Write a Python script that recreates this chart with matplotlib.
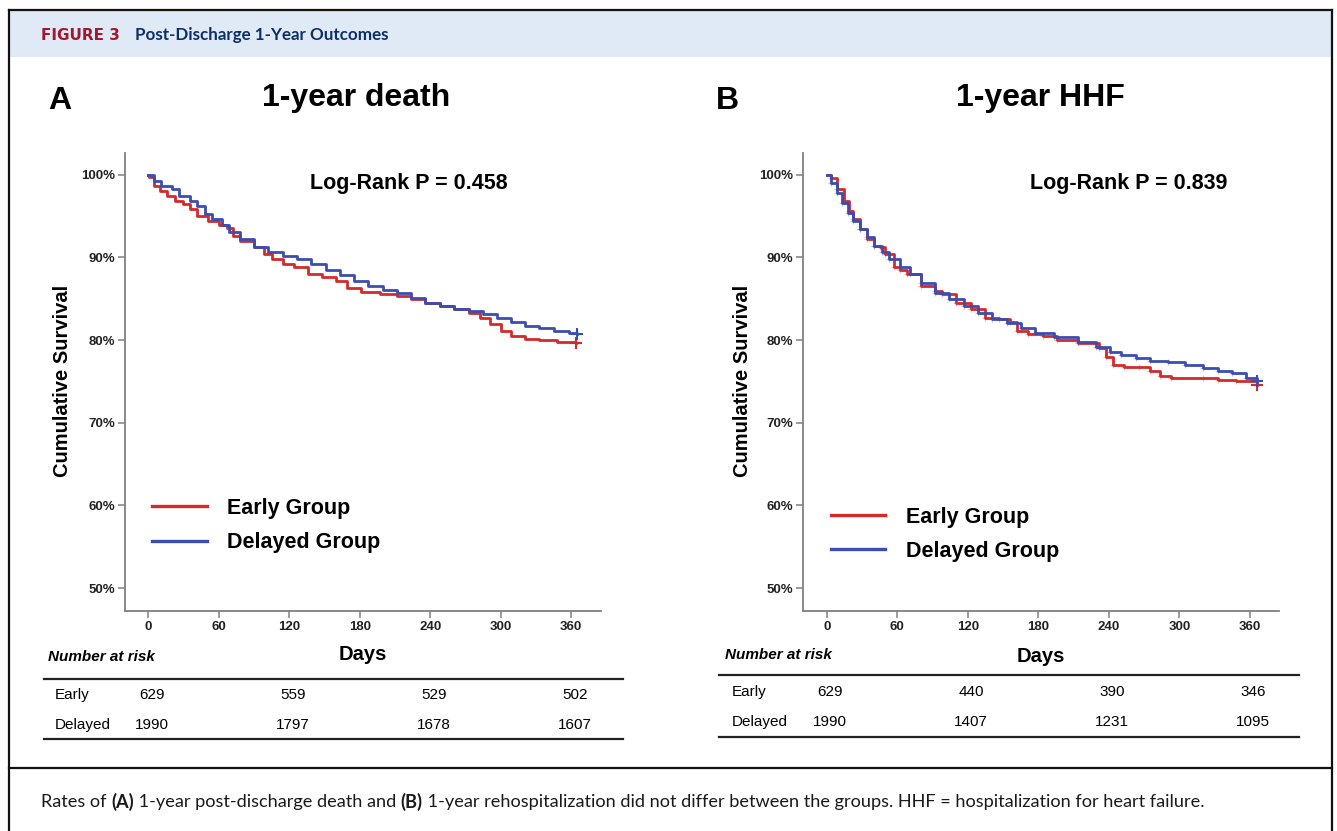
"""Figure 3: post-discharge 1-year Kaplan-Meier curves (death and HHF)."""
import matplotlib
matplotlib.use("Agg")  # noqa: E402
import matplotlib.pyplot as plt
from matplotlib.lines import Line2D
from matplotlib.patches import Rectangle
from matplotlib.transforms import blended_transform_factory

plt.rcParams["font.family"] = ["Liberation Sans", "DejaVu Sans"]

W, H = 1337, 831
RED = "#d42a2c"
BLUE = "#3b4db0"
SPINE = "#808080"

DAY_TICKS = [0, 60, 120, 180, 240, 300, 360]
PCT_TICKS = [50, 60, 70, 80, 90, 100]

# panel A - 1-year death
death_early_days = [0, 0.6, 5, 10, 16, 23, 30, 36, 42, 51, 60, 67, 72, 78, 90, 99, 105,
                    115, 124, 136, 148, 160, 169, 181, 197, 212, 224, 236, 248, 260,
                    273, 282, 291, 300, 309, 321, 333, 348, 364]
death_early_surv = [100, 99.7, 98.6, 98.0, 97.4, 96.8, 96.4, 95.8, 95.0, 94.4, 93.9, 93.5,
                    92.6, 92.0, 91.2, 90.4, 89.8, 89.2, 88.8, 88.0, 87.6, 87.1, 86.3,
                    85.8, 85.5, 85.3, 84.9, 84.5, 84.1, 83.7, 83.3, 82.7, 81.9, 81.1,
                    80.5, 80.1, 80.0, 79.8, 79.6]
death_delayed_days = [0, 5, 11, 20, 26, 36, 42, 48, 54, 63, 69, 78, 90, 102, 115, 127,
                      139, 151, 163, 175, 187, 200, 212, 224, 236, 248, 260, 273, 285,
                      297, 309, 321, 333, 345, 358, 365]
death_delayed_surv = [100, 99.2, 98.6, 98.2, 97.4, 96.8, 96.2, 95.2, 94.6, 93.9, 93.0,
                      92.2, 91.2, 90.6, 90.2, 89.8, 89.2, 88.4, 87.8, 87.1, 86.5, 86.1,
                      85.7, 85.1, 84.5, 84.1, 83.7, 83.5, 83.1, 82.7, 82.2, 81.7, 81.4,
                      81.1, 80.8, 80.7]

# panel B - 1-year HHF
hhf_early_days = [0, 4, 8.5, 15, 19, 22, 28, 34, 40, 45, 50, 57, 62, 68, 80, 92, 98,
                  110, 123, 135, 147, 156, 162, 171, 184, 196, 214, 232, 238, 244, 253,
                  266, 275, 284, 293, 320, 333, 348, 366]
hhf_early_surv = [100, 99.6, 98.2, 96.8, 95.6, 94.6, 93.4, 92.2, 91.4, 91.3, 90.4, 88.8,
                  88.4, 88.0, 86.5, 85.9, 85.5, 84.5, 83.7, 82.7, 82.5, 82.2, 81.1, 80.7,
                  80.5, 80.0, 79.6, 79.0, 78.0, 77.0, 76.7, 76.7, 76.2, 75.6, 75.4, 75.4,
                  75.2, 75.0, 74.6]
hhf_delayed_days = [0, 4, 8.5, 13, 18, 22, 28, 34, 40, 47, 53, 62, 71, 80, 92, 104, 117,
                    129, 141, 153, 165, 177, 193, 214, 229, 241, 250, 263, 275, 290, 305,
                    320, 333, 345, 357, 366]
hhf_delayed_surv = [100, 99.0, 97.8, 96.6, 95.4, 94.4, 93.4, 92.4, 91.4, 90.6, 89.8, 88.8,
                    88.0, 86.9, 85.7, 84.9, 84.1, 83.3, 82.5, 82.1, 81.5, 80.9, 80.4, 79.8,
                    79.2, 78.6, 78.2, 77.8, 77.5, 77.3, 77.0, 76.6, 76.3, 76.0, 75.4, 75.1]

RISK_DAYS = [0, 120, 240, 360]
death_risk_early = [629, 559, 529, 502]
death_risk_delayed = [1990, 1797, 1678, 1607]
hhf_risk_early = [629, 440, 390, 346]
hhf_risk_delayed = [1990, 1407, 1231, 1095]

CAPTION = [("Rates of ", "normal"), ("(A)", "bold"),
           (" 1-year post-discharge death and ", "normal"), ("(B)", "bold"),
           (" 1-year rehospitalization did not differ between the groups. HHF = "
            "hospitalization for heart failure.", "normal")]


def fx(x):
    return x / W


def fy(y):
    return 1 - y / H


def km_panel(fig, left_px, curves, censor_dense):
    ax = fig.add_axes([fx(left_px), fy(611), 476 / W, (611 - 153) / H])
    for days, surv, color in curves:
        ax.step(days, surv, where="post", color=color, lw=2.0)
        if censor_dense:
            ax.plot(days[1:], surv[1:], ls="none", marker="+", ms=5, mew=0.8,
                    color=color, alpha=0.35)
        ax.plot(days[-1], surv[-1], ls="none", marker="+", ms=8, mew=1.5, color=color)
    ax.set_xlim(-20, 385)
    ax.set_ylim(47.25, 102.6)
    ax.set_xticks(DAY_TICKS)
    ax.set_yticks(PCT_TICKS)
    ax.set_yticklabels([f"{p}%" for p in PCT_TICKS])
    for s in ("top", "right"):
        ax.spines[s].set_visible(False)
    for s in ("left", "bottom"):
        ax.spines[s].set_color(SPINE)
        ax.spines[s].set_linewidth(1.3)
    ax.tick_params(direction="out", length=5, width=1.1, color=SPINE, labelsize=9.5, pad=2)
    for lab in ax.get_xticklabels() + ax.get_yticklabels():
        lab.set_fontweight("bold")
        lab.set_color("#222222")
    return ax


def risk_table(fig, ax, x0, x1, y_top, y_e, y_d, y_bot, lab_x, early, delayed):
    tr = blended_transform_factory(ax.transData, fig.transFigure)
    for y in (y_top, y_bot):
        fig.add_artist(Line2D([fx(x0), fx(x1)], [fy(y), fy(y)], color="#222222", lw=1.6))
    fig.text(fx(lab_x), fy(y_e), "Early", fontsize=11, va="center")
    fig.text(fx(lab_x), fy(y_d), "Delayed", fontsize=11, va="center")
    for d, e, dl in zip(RISK_DAYS, early, delayed):
        ax.text(d + 3, fy(y_e), str(e), transform=tr, fontsize=11, ha="center", va="center")
        ax.text(d + 3, fy(y_d), str(dl), transform=tr, fontsize=11, ha="center", va="center")


def run_text(fig, renderer, x_px, y_px, pieces, family, target_w, color):
    """Inline text runs with mixed weight, sized so the whole line spans target_w px."""
    def draw(size):
        arts, x = [], fx(x_px)
        for txt, wt in pieces:
            t = fig.text(x, fy(y_px), txt, family=family, fontsize=size, fontweight=wt,
                         va="center", color=color)
            x += t.get_window_extent(renderer=renderer).width / W
            arts.append(t)
        return arts, (x - fx(x_px)) * W
    arts, width = draw(10)
    for a in arts:
        a.remove()
    draw(10 * target_w / width)


fig = plt.figure(figsize=(W / 100, H / 100), dpi=100)
renderer = fig.canvas.get_renderer()

# frame, header band, caption divider
fig.add_artist(Rectangle((fx(9), fy(57)), fx(1332 - 9), (57 - 10) / H,
                         facecolor="#dfeaf6", edgecolor="none"))
for xs, ys in [([9, 1332], [10, 10]), ([9, 9], [10, 831]), ([1332, 1332], [10, 831]),
               ([9, 1332], [768, 768])]:
    fig.add_artist(Line2D([fx(v) for v in xs], [fy(v) for v in ys], color="#111111", lw=1.6))
fig.text(fx(41), fy(35), "FIGURE 3", family="DejaVu Sans", fontweight="bold",
         fontsize=11, color="#a0192e", va="center")
run_text(fig, renderer, 135, 35, [("Post-Discharge 1-Year Outcomes", "bold")], "Lato",
         255, "#0e2f66")

panels = [
    dict(left=124.6, tag="A", tag_x=48, title="1-year death", title_x=356, p="0.458", p_x=310,
         curves=[(death_early_days, death_early_surv, RED),
                 (death_delayed_days, death_delayed_surv, BLUE)],
         dense=False, leg_y=0.247, ylab_x=63,
         table=(44, 623, 679, 695, 725, 739, 54.5), nar=(48, 657), days_xy=(363, 655),
         risk=(death_risk_early, death_risk_delayed)),
    dict(left=803.2, tag="B", tag_x=716, title="1-year HHF", title_x=1040, p="0.839", p_x=1030,
         curves=[(hhf_early_days, hhf_early_surv, RED),
                 (hhf_delayed_days, hhf_delayed_surv, BLUE)],
         dense=True, leg_y=0.228, ylab_x=742,
         table=(719, 1299, 675, 692, 722, 737, 731.6), nar=(724.5, 655), days_xy=(1041, 656),
         risk=(hhf_risk_early, hhf_risk_delayed)),
]

for p in panels:
    ax = km_panel(fig, p["left"], p["curves"], p["dense"])
    fig.text(fx(p["tag_x"]), fy(101), p["tag"], fontsize=23, fontweight="bold", va="center")
    fig.text(fx(p["title_x"]), fy(98), p["title"], fontsize=23, fontweight="bold",
             ha="center", va="center")
    fig.text(fx(p["p_x"]), fy(184), f"Log-Rank P = {p['p']}", fontsize=15.5,
             fontweight="bold", va="center")
    fig.text(fx(p["ylab_x"]), fy(381), "Cumulative Survival", fontsize=14.5,
             fontweight="bold", rotation=90, ha="center", va="center")
    handles = [Line2D([], [], color=RED, lw=2.4), Line2D([], [], color=BLUE, lw=2.4)]
    ax.legend(handles, ["Early Group", "Delayed Group"], loc="upper left",
              bbox_to_anchor=(0.0575, p["leg_y"]), frameon=False, borderpad=0,
              borderaxespad=0, handlelength=2.55, handletextpad=0.95, labelspacing=0.62,
              prop=dict(size=15.5, weight="bold"))
    fig.text(fx(p["nar"][0]), fy(p["nar"][1]), "Number at risk", fontsize=11,
             fontweight="bold", style="italic", va="center")
    fig.text(fx(p["days_xy"][0]), fy(p["days_xy"][1]), "Days", fontsize=14.5,
             fontweight="bold", ha="center", va="center")
    x0, x1, yt, ye, yd, yb, lx = p["table"]
    risk_table(fig, ax, x0, x1, yt, ye, yd, yb, lx, *p["risk"])

run_text(fig, renderer, 41, 802, CAPTION, "Lato", 1168, "#1a1a1a")

fig.savefig("out.png", dpi=100)
